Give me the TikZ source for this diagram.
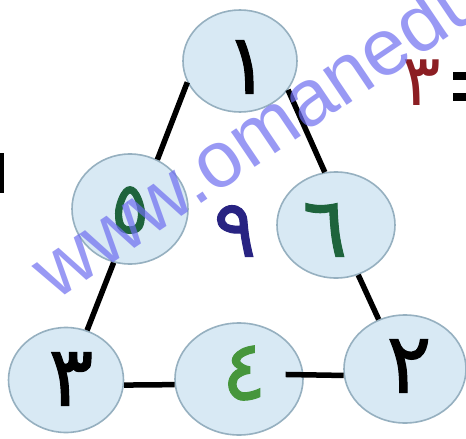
\documentclass[tikz,border=0pt]{standalone}
\usepackage{fontspec}
\setmainfont{DejaVu Sans}
\newfontfamily\arabicfont[Script=Arabic]{DejaVu Sans}
\newfontfamily\arabicmed[Script=Arabic,FakeBold=1.2]{DejaVu Sans}
\newfontfamily\wmfont{Liberation Sans}
\usetikzlibrary{shapes.geometric}
\definecolor{cfill}{RGB}{216,233,244}
\definecolor{cdraw}{RGB}{150,176,192}
\definecolor{dkgreen}{RGB}{30,100,60}
\definecolor{ltgreen}{RGB}{70,150,60}
\definecolor{navy}{RGB}{40,35,130}
\definecolor{dkred}{RGB}{140,30,35}
\definecolor{wmblue}{RGB}{110,110,240}
\begin{document}
\begin{tikzpicture}[x=1pt,y=-1pt,
  circ/.style={ellipse, draw=cdraw, fill=cfill, line width=1.6pt, inner sep=0pt},
  digit/.style={font=\arabicmed\fontsize{84}{84}\selectfont, inner sep=0pt},
  link/.style={line width=5.5pt, black}]
\useasboundingbox (0,0) rectangle (466,439);
\fill[white] (0,0) rectangle (466,439);
\clip (0,0) rectangle (466,439);
% circles
\node[circ, minimum width=114, minimum height=102] (n1) at (240,61) {};
\node[circ, minimum width=116, minimum height=110] (n5) at (130,209) {};
\node[circ, minimum width=118, minimum height=106] (n6) at (336,225) {};
\node[circ, minimum width=115, minimum height=105] (n3) at (66,380) {};
\node[circ, minimum width=128, minimum height=112] (n4) at (239,379) {};
\node[circ, minimum width=122, minimum height=108] (n2) at (405,369) {};
% connectors
\draw[link] (n1.202) -- (n5.61);
\draw[link] (n1.329) -- (n6.102);
\draw[link] (n5.253) -- (n3.67);
\draw[link] (n6.294) -- (n2.118);
\draw[link] (n3.-5) -- (n4.185);
\draw[link] ([xshift=-18]n4.4) -- (n2.186);
% digits
\node[digit, text=black] (d1) at (247,67) {١};
\node[digit, text=dkgreen, font=\arabicmed\fontsize{72}{72}\selectfont] (d5) at (130,210) {٥};
\node[digit, text=dkgreen] (d6) at (325,230) {٦};
\node[digit, text=navy, font=\arabicmed\fontsize{80}{80}\selectfont] (d9) at (235,231) {٩};
\node[digit, text=black] (d3) at (71,379) {٣};
\node[digit, text=ltgreen] (d4) at (244,373) {٤};
\node[digit, text=black] (d2) at (409,366) {٢};
\node[digit, text=dkred, font=\arabicfont\fontsize{72}{72}\selectfont] (r3) at (422,83) {٣};
% equals sign and left mark
\fill[black] (453,72) rectangle (466,80);
\fill[black] (453,93) rectangle (466,101);
\draw[line width=4pt] (2,153) -- (2,193);
% watermark
\node[font=\wmfont\fontsize{80}{80}\selectfont, text=wmblue, text opacity=0.7,
      anchor=base west, rotate=34, inner sep=0pt] (wm) at (55,302) {www.omanedu};
\end{tikzpicture}
\end{document}
